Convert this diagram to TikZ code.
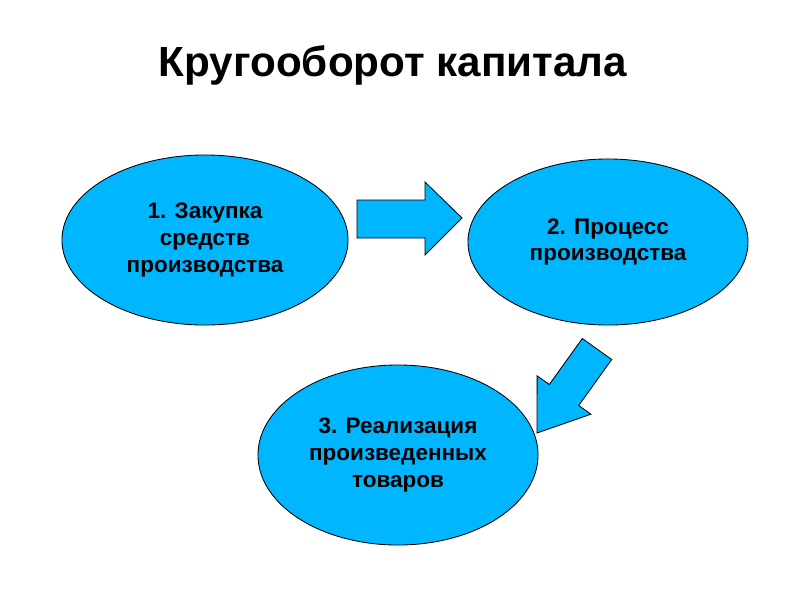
\documentclass[tikz,border=0pt]{standalone}
\usepackage{fontspec}
\setmainfont{Liberation Sans}
\usetikzlibrary{shapes.geometric}
\begin{document}
\begin{tikzpicture}[x=0.025cm,y=-0.025cm,
  el/.style={ellipse,draw=black,fill={rgb,255:red,0;green,183;blue,255},line width=0.6pt,inner sep=0pt,align=center,font=\bfseries\fontsize{16}{19}\selectfont},
  blk/.style={draw=black,fill={rgb,255:red,0;green,183;blue,255},line width=0.6pt}]
\useasboundingbox (0,0) rectangle (800,600);
\node[font=\bfseries\fontsize{30}{36}\selectfont] (t) at (393,65) {Кругооборот капитала};
\node[el,minimum width=286\pgflinewidth/0.6*0.025cm*0+7.15cm,minimum height=4.25cm] (e1) at (205,240) {1. Закупка\\средств\\производства};
\node[el,minimum width=7.0cm,minimum height=4.15cm] (e2) at (608,242) {2. Процесс\\производства};
\node[el,minimum width=7.0cm,minimum height=4.5cm] (e3) at (398,455) {3. Реализация\\произведенных\\товаров};
\draw[blk] (357,200)--(425,200)--(425,182)--(462,218)--(425,255)--(425,238)--(357,238)--cycle;
\draw[blk] (582.3,338.5)--(611.7,359.5)--(578.7,405.5)--(590.9,414.2)--(537,433)--(537.1,375.8)--(549.3,384.5)--cycle;
\end{tikzpicture}
\end{document}
